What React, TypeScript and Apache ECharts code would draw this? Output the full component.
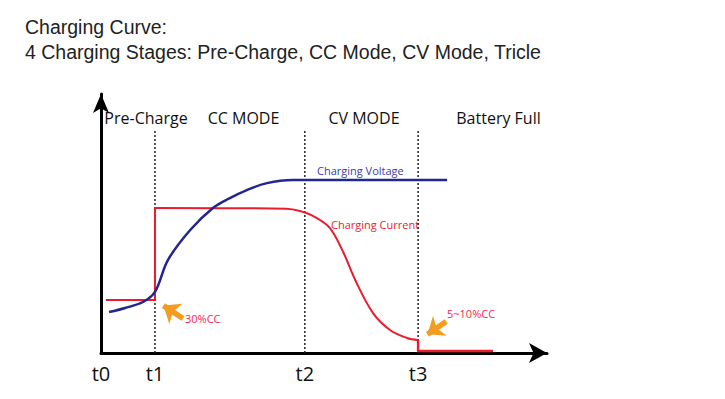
import React, { useEffect, useRef } from "react";
import * as echarts from "echarts";

// time axis positions (arbitrary units 0..100)
const tValues = [0, 12.1, 45.7, 71.1];
const tLabels = ["t0", "t1", "t2", "t3"];
const stageLabels = ["Pre-Charge", "CC MODE", "CV MODE", "Battery Full"];

// Charging voltage curve
const voltage: number[][] = [
  [1.8, 15.8], [5.4, 17.4], [9.4, 19.7], [12.1, 23.6], [15.0, 35.9],
  [20.0, 47.5], [25.1, 56.0], [28.9, 59.8], [32.7, 62.9], [37.2, 65.6],
  [43.0, 66.8], [45.7, 66.8], [77.6, 66.8],
];

// Charging current: pre-charge step, CC/CV curve, trickle
const currentPre: number[][] = [[1.1, 20.5], [12.1, 20.5], [12.1, 56.0]];
const currentCcCv: number[][] = [
  [12.1, 56.0], [41.5, 55.7], [44.6, 54.8], [48.0, 52.5], [51.3, 48.3],
  [54.3, 39.0], [57.0, 28.2], [61.0, 15.4], [64.8, 8.9], [68.6, 5.8], [71.1, 5.0],
];
const currentTrickle: number[][] = [[71.1, 5.0], [71.1, 0.8], [87.9, 0.8]];

const dividerTop = 86.5;

// annotation arrows [tail, head]
const arrow30: number[][] = [[18.4, 13.3], [14.0, 18.3]];
const arrow5: number[][] = [[77.4, 12.2], [73.2, 7.2]];

const BLUE = "#22278f";
const RED = "#ec1c2e";
const ORANGE = "#f39c1d";

export default function App() {
  const ref = useRef<HTMLDivElement>(null);
  useEffect(() => {
    if (!ref.current) return;
    const chart = echarts.init(ref.current, undefined, { renderer: "svg" });
    const dividers = tValues.slice(1).map((t) => ({
      type: "line",
      data: [[t, 0], [t, dividerTop]],
      symbol: "none",
      lineStyle: { color: "#222", width: 1.5, type: [2, 2] },
      z: 1,
      silent: true,
    }));
    const font = "'Open Sans', 'Noto Sans', sans-serif";
    const titleFont = "'Liberation Sans', Arial, sans-serif";
    chart.setOption({
      animation: false,
      backgroundColor: "#fff",
      grid: { left: 101, right: 178, top: 94, bottom: 46 },
      xAxis: {
        type: "value",
        min: 0,
        max: 100,
        splitLine: { show: false },
        axisTick: { show: false },
        axisLine: {
          show: true,
          onZero: false,
          lineStyle: { color: "#000", width: 3 },
          symbol: ["none", "arrow"],
          symbolSize: [15, 18],
        },
        axisLabel: {
          show: true,
          customValues: tValues,
          formatter: (v: number) => {
            const i = tValues.findIndex((t) => Math.abs(t - v) < 1e-6);
            return i >= 0 ? tLabels[i] : "";
          },
          fontSize: 20,
          fontFamily: font,
          color: "#111",
          margin: 10,
        },
      },
      yAxis: {
        type: "value",
        min: 0,
        max: 100,
        splitLine: { show: false },
        axisTick: { show: false },
        axisLabel: { show: false },
        axisLine: {
          show: true,
          lineStyle: { color: "#000", width: 3 },
          symbol: ["none", "arrow"],
          symbolSize: [12, 19],
        },
      },
      series: [
        ...dividers,
        {
          type: "line",
          data: currentPre,
          symbol: "none",
          lineStyle: { color: RED, width: 2 },
          z: 3,
        },
        {
          type: "line",
          data: currentCcCv,
          symbol: "none",
          smooth: 0.35,
          lineStyle: { color: RED, width: 2 },
          z: 3,
        },
        {
          type: "line",
          data: currentTrickle,
          symbol: "none",
          lineStyle: { color: RED, width: 2.5 },
          z: 3,
        },
        {
          type: "line",
          data: voltage,
          symbol: "none",
          smooth: 0.35,
          lineStyle: { color: BLUE, width: 2.5 },
          z: 4,
          markLine: {
            silent: true,
            symbol: ["none", "arrow"],
            symbolSize: [18, 15],
            lineStyle: { color: ORANGE, width: 5.5, type: "solid" },
            label: { show: false },
            data: [
              [{ coord: arrow30[0] }, { coord: arrow30[1] }],
              [{ coord: arrow5[0] }, { coord: arrow5[1] }],
            ],
          },
        },
      ],
      graphic: [
        {
          type: "text",
          x: 25,
          y: 27,
          style: {
            text: "Charging Curve:",
            fontSize: 19.5,
            fontFamily: titleFont,
            fill: "#222",
            verticalAlign: "middle",
          },
        },
        {
          type: "text",
          x: 25,
          y: 52,
          style: {
            text: "4 Charging Stages: Pre-Charge, CC Mode, CV Mode, Tricle",
            fontSize: 19.5,
            fontFamily: titleFont,
            fill: "#222",
            verticalAlign: "middle",
          },
        },
        ...[146, 243.5, 364, 498.5].map((cx, i) => ({
          type: "text",
          x: cx,
          y: 118,
          style: {
            text: stageLabels[i],
            fontSize: 16,
            fontFamily: font,
            fill: "#111",
            align: "center",
            verticalAlign: "middle",
          },
        })),
        {
          type: "text",
          x: 317,
          y: 170,
          style: { text: "Charging Voltage", fontSize: 11, fontFamily: font, fill: "#3b3ba6", verticalAlign: "middle" },
        },
        {
          type: "text",
          x: 331,
          y: 224,
          style: { text: "Charging Current", fontSize: 11, fontFamily: font, fill: RED, verticalAlign: "middle" },
        },
        {
          type: "text",
          x: 185,
          y: 318,
          style: { text: "30%CC", fontSize: 11, fontFamily: font, fill: "#f0284a", verticalAlign: "middle" },
        },
        {
          type: "text",
          x: 447,
          y: 313,
          style: { text: "5~10%CC", fontSize: 11, fontFamily: font, fill: "#f0284a", verticalAlign: "middle" },
        },
      ],
    });
    return () => chart.dispose();
  }, []);
  return (
    <div
      ref={ref}
      style={{ position: "fixed", left: 0, top: 0, width: 725, height: 399 }}
    />
  );
}
